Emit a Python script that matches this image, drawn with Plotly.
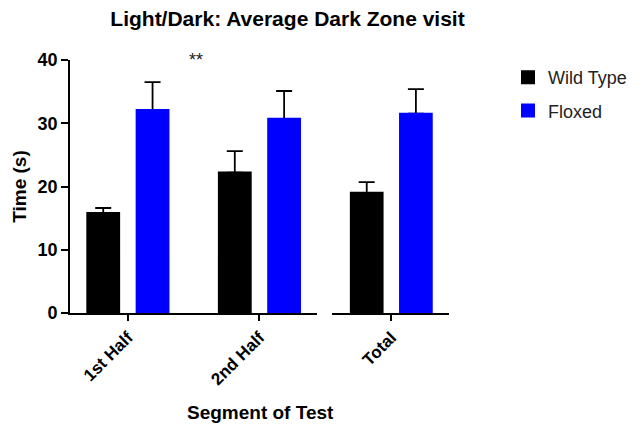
import plotly.graph_objects as go

categories_main = ["1st Half", "2nd Half"]
categories_total = ["Total"]
wt_main = [15.8, 22.2]
wt_main_err = [0.8, 3.4]
fl_main = [32.1, 30.7]
fl_main_err = [4.4, 4.4]
wt_total = [19.0]
wt_total_err = [1.7]
fl_total = [31.5]
fl_total_err = [3.9]
y_ticks = [0, 10, 20, 30, 40]

BOLD = "Liberation Sans"
BLUE = "#0000ff"
fig = go.Figure()

def err(vals):
    return dict(type="data", array=vals, arrayminus=[0] * len(vals), symmetric=False,
                color="black", thickness=1.8, width=8)

def add_series(cats, vals, errs, name, color, group, xa, legend):
    # error bars first (transparent bar), then the coloured bar on top so the
    # zero-length lower cap is hidden behind the bar
    fig.add_trace(go.Bar(x=cats, y=vals, name=name, marker_color="rgba(0,0,0,0)",
                         error_y=err(errs), xaxis=xa, yaxis="y", offsetgroup=group,
                         legendgroup=group, showlegend=False, hoverinfo="skip"))
    fig.add_trace(go.Bar(x=cats, y=vals, name=name, marker_color=color,
                         marker_line=dict(color=color, width=2),
                         xaxis=xa, yaxis="y", offsetgroup=group,
                         legendgroup=group, showlegend=legend))

add_series(categories_main, wt_main, wt_main_err, "Wild Type", "black", "wt", "x", True)
add_series(categories_main, fl_main, fl_main_err, "Floxed", BLUE, "fl", "x", True)
add_series(categories_total, wt_total, wt_total_err, "Wild Type", "black", "wt", "x2", False)
add_series(categories_total, fl_total, fl_total_err, "Floxed", BLUE, "fl", "x2", False)

x0, x1 = 70, 450
ytop, ybot = 60, 313
w = x1 - x0
h = ybot - ytop
d1_end = (318 - x0) / w
d2_start = (333 - x0) / w

axis_common = dict(showline=True, linecolor="black", linewidth=1.8, ticks="outside",
                   ticklen=6, tickwidth=1.8, tickcolor="black", tickangle=-45,
                   tickfont=dict(family=BOLD, size=17, color="black", weight="bold"),
                   showgrid=False, zeroline=False, type="category", automargin=False)

fig.update_layout(
    width=643, height=428,
    margin=dict(l=x0, r=643 - x1, t=ytop, b=428 - ybot),
    paper_bgcolor="white", plot_bgcolor="white",
    barmode="group", bargap=0.25, bargroupgap=0.355,
    title=dict(text="Light/Dark: Average Dark Zone visit", x=287.5 / 643, xanchor="center",
               y=1 - 19 / 428, yanchor="middle",
               font=dict(family=BOLD, size=21, color="black", weight="bold")),
    xaxis=dict(domain=[0, d1_end], range=[-0.44, 1.44], anchor="y", **axis_common),
    xaxis2=dict(domain=[d2_start, 1], range=[-0.45, 0.44], anchor="y", **axis_common),
    yaxis=dict(range=[0, 40], tickvals=y_ticks, showline=True, linecolor="black", linewidth=1.8,
               ticks="outside", ticklen=7, tickwidth=1.8, tickcolor="black",
               tickfont=dict(family=BOLD, size=18, color="black", weight="bold"),
               showgrid=False, zeroline=False, automargin=False,
               title=dict(text="Time (s)", standoff=6,
                          font=dict(family=BOLD, size=19, color="black", weight="bold"))),
    legend=dict(x=(508 - x0) / w, xref="paper", y=(ybot - 59) / h, yref="paper",
                xanchor="left", yanchor="top", tracegroupgap=7, traceorder="grouped",
                font=dict(family="Liberation Sans", size=18, color="#222"),
                bgcolor="rgba(0,0,0,0)"),
    showlegend=True,
)

fig.add_annotation(text="**", x=0.52, y=40, xref="x", yref="y", showarrow=False,
                   yanchor="middle", font=dict(family=BOLD, size=18, color="#222"))
fig.add_annotation(text="Segment of Test", x=(261 - x0) / w, xref="paper",
                   y=(ybot - 412) / h, yref="paper", showarrow=False,
                   yanchor="middle", xanchor="center",
                   font=dict(family=BOLD, size=19, color="black", weight="bold"))

fig.write_html("out.html")
